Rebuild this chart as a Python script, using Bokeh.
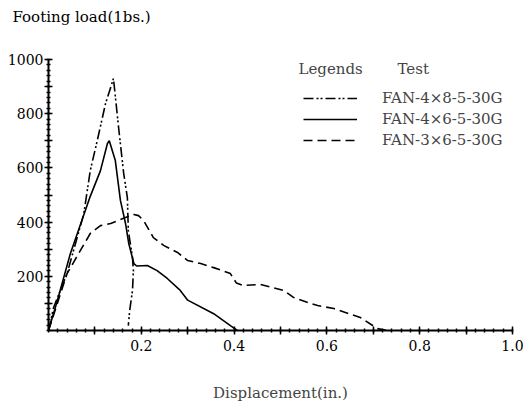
from bokeh.plotting import figure
from bokeh.models import (Range1d, FixedTicker, CustomJSTickFormatter, Legend, LegendItem, Label, Title)
from bokeh.embed import file_html
from bokeh.resources import INLINE

# Data
x_848 = [0, 0.011, 0.04, 0.076, 0.09, 0.105, 0.123, 0.134, 0.140, 0.151, 0.162, 0.170, 0.172, 0.181, 0.183, 0.181, 0.175, 0.172]
y_848 = [0, 85, 210, 430, 590, 700, 838, 897, 930, 750, 580, 490, 369, 269, 221, 148, 74, 18]

x_465 = [0, 0.019, 0.047, 0.09, 0.112, 0.127, 0.131, 0.144, 0.155, 0.166, 0.173, 0.184, 0.19, 0.213, 0.234, 0.256, 0.284, 0.30, 0.356, 0.392, 0.407]
y_465 = [0, 110, 283, 495, 590, 690, 700, 627, 480, 395, 321, 247, 238, 240, 221, 192, 148, 112, 62, 18, 0]

x_365 = [0, 0.04, 0.09, 0.112, 0.134, 0.166, 0.184, 0.194, 0.205, 0.226, 0.248, 0.278, 0.30, 0.328, 0.356, 0.392, 0.405, 0.42, 0.457, 0.507, 0.528, 0.565, 0.58, 0.615, 0.672, 0.709, 0.73]
y_365 = [0, 210, 358, 387, 395, 417, 428, 424, 406, 343, 314, 288, 258, 247, 232, 210, 175, 166, 170, 148, 122, 100, 92, 81, 48, 7, 0]

series_names = ["FAN-4\u00d78-5-30G", "FAN-4\u00d76-5-30G", "FAN-3\u00d76-5-30G"]
x_ticks = [0.1, 0.2, 0.3, 0.4, 0.5, 0.6, 0.7, 0.8, 0.9, 1.0]
y_ticks = [100, 200, 300, 400, 500, 600, 700, 800, 900, 1000]

FONT = "DejaVu Serif"

p = figure(width=532, height=406, output_backend="svg", toolbar_location=None,
           x_range=Range1d(0, 1.0), y_range=Range1d(0, 1000),
           min_border_left=48, min_border_right=20, min_border_top=59, min_border_bottom=76)
p.outline_line_color = None
p.xgrid.visible = False
p.ygrid.visible = False
p.background_fill_color = "white"
p.border_fill_color = "white"

p.title.text = "Footing load(1bs.)"
p.title.align = "left"
p.title.offset = -36
p.title.standoff = 2
p.title.text_font = FONT
p.title.text_font_size = "15px"
p.title.text_font_style = "normal"
p.title.text_color = "black"
spacer = Title(text=" ", text_font_size="1px", standoff=30)
p.add_layout(spacer, "above")

r1 = p.line(x_848, y_848, line_color="black", line_width=1.6, line_dash="10 3 2 2 2 3")
r2 = p.line(x_465, y_465, line_color="black", line_width=1.6)
r3 = p.line(x_365, y_365, line_color="black", line_width=1.6, line_dash="9 5")

for ax in (p.xaxis[0], p.yaxis[0]):
    ax.axis_line_width = 2
    ax.axis_line_color = "black"
    ax.major_tick_in = 4
    ax.major_tick_out = 4
    ax.major_tick_line_width = 1.5
    ax.minor_tick_in = 2
    ax.minor_tick_out = 2
    ax.minor_tick_line_width = 1.5
    ax.major_label_text_font = FONT
    ax.major_label_text_font_size = "14px"
    ax.major_label_text_color = "black"

p.xaxis.ticker = FixedTicker(ticks=x_ticks, minor_ticks=[i * 0.02 for i in range(51)])
p.yaxis.ticker = FixedTicker(ticks=y_ticks, minor_ticks=[i * 20 for i in range(51)])
p.xaxis.formatter = CustomJSTickFormatter(code="""
var v = Math.round(tick*10);
return (v % 2 == 0 && v > 0) ? (v/10).toFixed(1) : "";
""")
p.yaxis.formatter = CustomJSTickFormatter(code="""
var v = Math.round(tick);
return (v % 200 == 0 && v > 0) ? v.toString() : "";
""")
p.xaxis.major_label_standoff = 5
p.yaxis.major_label_standoff = 1
p.xaxis.axis_label = "Displacement(in.)"
p.xaxis.axis_label_text_font = FONT
p.xaxis.axis_label_text_font_style = "normal"
p.xaxis.axis_label_text_font_size = "15px"
p.xaxis.axis_label_standoff = 30

lg1 = Label(x=(298 - 48) / 464, y=(330 - 68) / 0.271, text="Legends", text_font=FONT,
            text_font_size="15px", text_baseline="middle", text_align="left")
lg2 = Label(x=(397 - 48) / 464, y=(330 - 68) / 0.271, text="Test", text_font=FONT,
            text_font_size="15px", text_baseline="middle", text_align="left")
p.add_layout(lg1)
p.add_layout(lg2)

legend = Legend(items=[LegendItem(label=series_names[0], renderers=[r1]),
                       LegendItem(label=series_names[1], renderers=[r2]),
                       LegendItem(label=series_names[2], renderers=[r3])],
                location=(255, 180), orientation="vertical",
                background_fill_alpha=0, border_line_color=None,
                glyph_width=54, glyph_height=20, label_height=20, spacing=1,
                label_standoff=25, padding=0, margin=0,
                label_text_font=FONT, label_text_font_size="15px")
p.add_layout(legend)

open("out.html", "w").write(file_html(p, INLINE))
